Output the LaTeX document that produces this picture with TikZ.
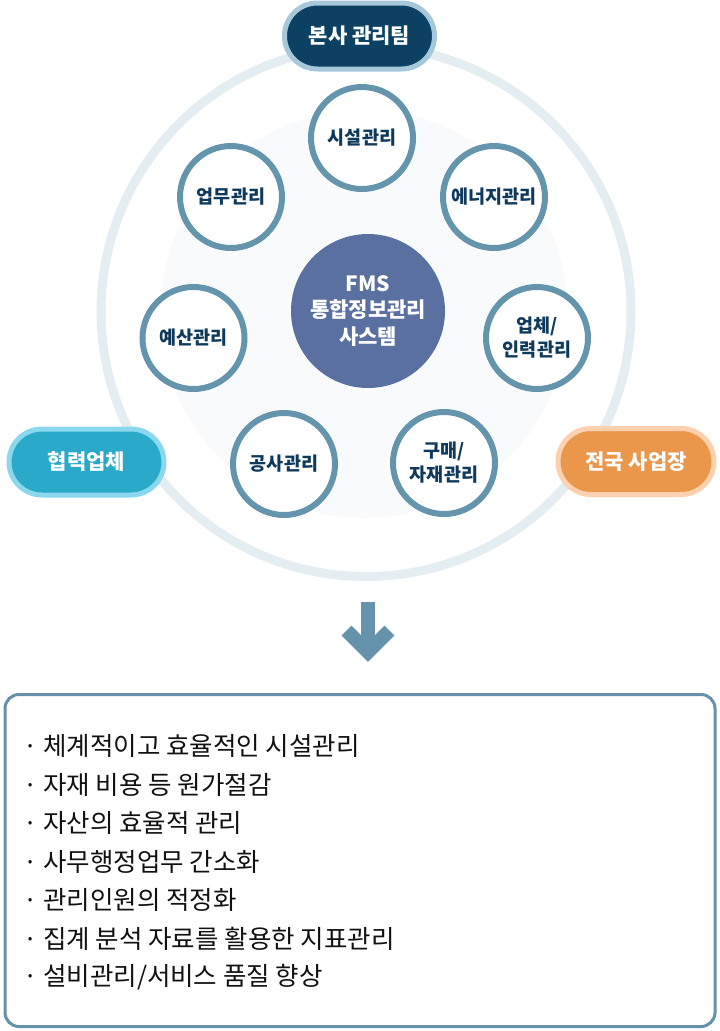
\documentclass[tikz,border=0pt]{standalone}
\usepackage{fontspec}
\setmainfont{Noto Sans CJK KR}
\definecolor{ringc}{HTML}{E4EDF2}
\definecolor{faint}{HTML}{F9FAFB}
\definecolor{corec}{HTML}{5970A0}
\definecolor{satline}{HTML}{6595AD}
\definecolor{sattext}{HTML}{0D3A5C}
\definecolor{topfill}{HTML}{0C4163}
\definecolor{topline}{HTML}{A7C7DA}
\definecolor{leftfill}{HTML}{2AA9C9}
\definecolor{leftline}{HTML}{8AD8EE}
\definecolor{rightfill}{HTML}{EA964B}
\definecolor{rightline}{HTML}{FDD1AF}
\definecolor{arrowc}{HTML}{6493AB}
\definecolor{boxline}{HTML}{6592AA}
\definecolor{bodytext}{HTML}{111111}
\tikzset{
  sat/.style={circle, draw=satline, line width=6pt, fill=white, minimum size=102pt,
    inner sep=0pt, align=center, text=sattext,
    font=\bfseries\fontsize{18.5}{24}\selectfont},
  pill/.style={rounded corners=32.9pt, line width=5pt, minimum height=66pt,
    inner sep=0pt, text=white, font=\bfseries\fontsize{21}{24}\selectfont},
  bodyline/.style={anchor=west, inner sep=0pt, text=bodytext,
    font=\fontsize{25.5}{30}\selectfont}
}
\begin{document}
\begin{tikzpicture}[x=1pt,y=-1pt]
\useasboundingbox (0,0) rectangle (720,1031);
% outer ring and faint disk
\draw[ringc, line width=9pt] (366,311.5) circle [radius=265pt];
\fill[faint] (364,314) circle [radius=204pt];
% core
\node[circle, fill=corec, minimum size=154pt, inner sep=0pt, align=center, text=white,
  font=\bfseries\fontsize{21}{26.5}\selectfont] (core) at (368,311) {FMS\\통합정보관리\\사스템};
% satellites
\node[sat] (s1) at (362,138) {시설관리};
\node[sat] (s2) at (494,197) {에너지관리};
\node[sat] (s3) at (537,338) {업체/\\인력관리};
\node[sat] (s4) at (444,463) {구매/\\자재관리};
\node[sat] (s5) at (284,464) {공사관리};
\node[sat] (s6) at (193.5,338) {예산관리};
\node[sat] (s7) at (231,197) {업무관리};
% pills
\node[pill, fill=topfill, draw=topline, minimum width=150pt] (top) at (359.5,36) {본사 관리팀};
\node[pill, fill=leftfill, draw=leftline, minimum width=155pt] (left) at (86.5,462) {협력업체};
\node[pill, fill=rightfill, draw=rightline, minimum width=156pt] (right) at (636,461.5) {전국 사업장};
% down arrow
\draw[arrowc, line width=14pt] (368,601.5) -- (368,650);
\draw[arrowc, line width=14pt, miter limit=10] (346.5,630.5) -- (368,652) -- (389.5,630.5);
% result box
\draw[boxline, line width=3pt, rounded corners=14pt] (5,694.5) rectangle (715,1026.5);
\node[bodyline] (b1) at (23,746) {· 체계적이고 효율적인 시설관리};
\node[bodyline] (b2) at (23,784.5) {· 자재 비용 등 원가절감};
\node[bodyline] (b3) at (23,823) {· 자산의 효율적 관리};
\node[bodyline] (b4) at (23,861.5) {· 사무행정업무 간소화};
\node[bodyline] (b5) at (23,900) {· 관리인원의 적정화};
\node[bodyline] (b6) at (23,938.5) {· 집계 분석 자료를 활용한 지표관리};
\node[bodyline] (b7) at (23,977) {· 설비관리/서비스 품질 향상};
\end{tikzpicture}
\end{document}
